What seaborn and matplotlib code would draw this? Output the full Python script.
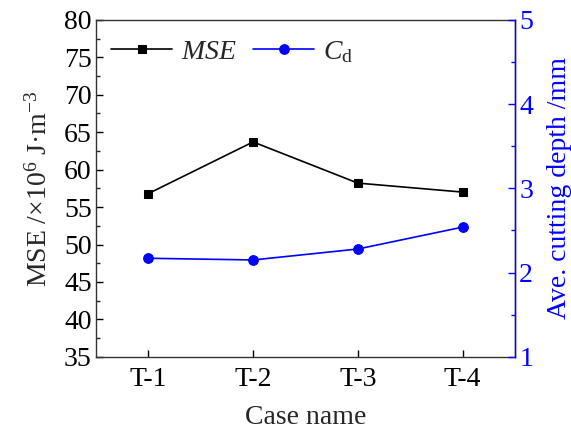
import matplotlib
matplotlib.use("Agg")
import matplotlib.pyplot as plt
import seaborn as sns
import pandas as pd
from matplotlib.ticker import MultipleLocator

cases = ["T-1", "T-2", "T-3", "T-4"]
mse = [56.8, 63.7, 58.2, 57.0]
cd = [2.17, 2.15, 2.28, 2.54]

sns.set_style("ticks")
plt.rcParams['font.family'] = ['Liberation Serif', 'DejaVu Serif']
plt.rcParams['mathtext.fontset'] = 'custom'
plt.rcParams['mathtext.rm'] = 'Liberation Serif'
plt.rcParams['mathtext.it'] = 'Liberation Serif:italic'
plt.rcParams['xtick.direction'] = 'in'
plt.rcParams['ytick.direction'] = 'in'

df = pd.DataFrame({"case": cases, "mse": mse, "cd": cd})
df["x"] = range(len(cases))

fig, ax = plt.subplots(figsize=(5.71, 4.32), dpi=100)
fig.subplots_adjust(left=0.168, right=0.902, top=0.954, bottom=0.174)

sns.lineplot(data=df, x="x", y="mse", ax=ax, color="black", marker="s",
             markersize=6, linewidth=1.2, markeredgecolor="black", label="$MSE$", legend=False)
ax2 = ax.twinx()
sns.lineplot(data=df, x="x", y="cd", ax=ax2, color="#0000FF", marker="o",
             markersize=7, linewidth=1.2, markeredgecolor="#0000FF", label="$C_{\\mathrm{d}}$", legend=False)

ax.set_xlim(-0.5, 3.5)
ax.set_ylim(35, 80)
ax2.set_ylim(1, 5)
ax.set_xticks(range(len(cases)))
ax.set_xticklabels(cases)
ax.yaxis.set_major_locator(MultipleLocator(5))
ax.yaxis.set_minor_locator(MultipleLocator(2.5))
ax2.yaxis.set_major_locator(MultipleLocator(1))
ax2.yaxis.set_minor_locator(MultipleLocator(0.5))

fs = 20
ax.tick_params(axis='both', labelsize=fs, length=5, width=1, colors='black', pad=3)
ax.tick_params(axis='x', pad=7)
ax.tick_params(axis='y', which='minor', length=3, width=1)
ax.tick_params(axis='x', which='minor', bottom=False)
ax2.tick_params(axis='y', labelsize=fs, length=5, width=1, colors='#0000FF', direction='in', pad=3)
ax2.tick_params(axis='y', which='minor', length=3, width=1, colors='#0000FF', direction='in')

ax.set_xlabel("Case name", fontsize=fs, labelpad=10)
ax.set_ylabel("MSE /×10$^{6}$ J·m$^{-3}$", fontsize=fs, labelpad=8)
ax2.set_ylabel("Ave. cutting depth /mm", fontsize=fs, color='#0000FF', labelpad=10)

for s in ax.spines.values():
    s.set_color('#333333')
    s.set_linewidth(1)
ax2.spines['right'].set_color('#0000FF')
ax2.spines['right'].set_linewidth(1)
ax2.spines['left'].set_visible(False)
ax2.spines['top'].set_visible(False)
ax2.spines['bottom'].set_visible(False)

h1, l1 = ax.get_legend_handles_labels()
h2, l2 = ax2.get_legend_handles_labels()
ax.legend(h1 + h2, l1 + l2, loc='upper left', ncol=2, frameon=False,
          fontsize=fs, handlelength=2.2, columnspacing=0.6, handletextpad=0.3,
          bbox_to_anchor=(-0.01, 1.0), borderaxespad=0.3)

fig.savefig("out.png", dpi=100)
